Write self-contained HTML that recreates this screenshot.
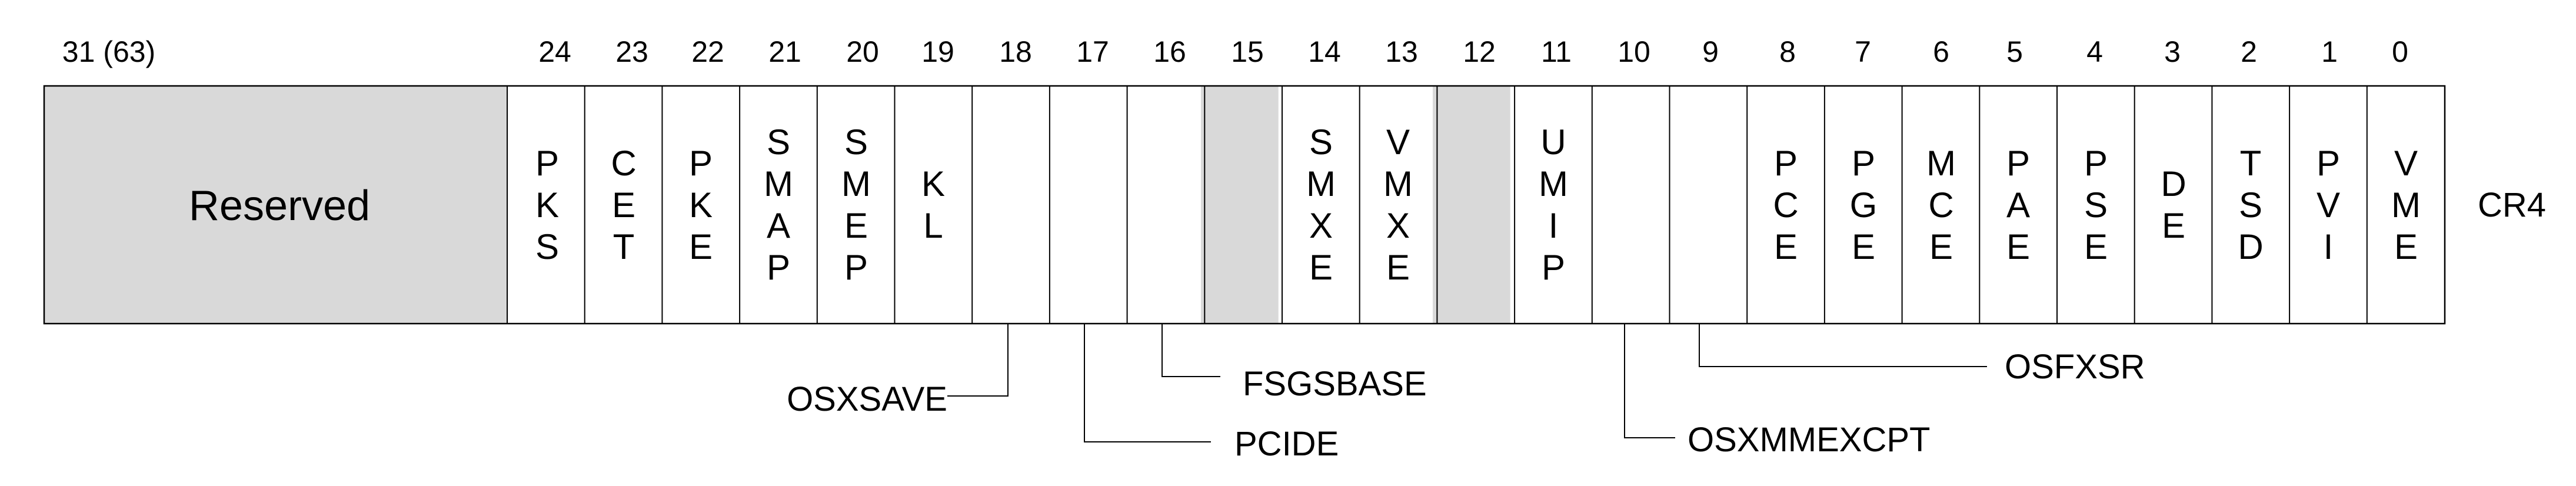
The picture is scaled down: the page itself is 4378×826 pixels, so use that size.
<!DOCTYPE html>
<html><head><meta charset="utf-8"><style>
html,body{margin:0;padding:0;background:#fff;}
svg{display:block;}
text{font-family:"Liberation Sans",Arial,sans-serif;fill:#000;}
</style></head><body>
<svg width="4378" height="826" viewBox="0 0 4378 826" xmlns="http://www.w3.org/2000/svg">
<rect x="75" y="146" width="787" height="404" fill="#d9d9d9"/>
<rect x="2041" y="146" width="131.7" height="404" fill="#d9d9d9"/>
<rect x="2435" y="146" width="131.7" height="404" fill="#d9d9d9"/>
<rect x="75" y="146" width="4080" height="404" fill="none" stroke="#000" stroke-width="2.5"/>
<g stroke="#000" stroke-width="2">
<line x1="862" y1="146" x2="862" y2="550"/>
<line x1="993.7" y1="146" x2="993.7" y2="550"/>
<line x1="1125.4" y1="146" x2="1125.4" y2="550"/>
<line x1="1257.1" y1="146" x2="1257.1" y2="550"/>
<line x1="1388.8" y1="146" x2="1388.8" y2="550"/>
<line x1="1520.5" y1="146" x2="1520.5" y2="550"/>
<line x1="1652.2" y1="146" x2="1652.2" y2="550"/>
<line x1="1783.9" y1="146" x2="1783.9" y2="550"/>
<line x1="1915.6" y1="146" x2="1915.6" y2="550"/>
<line x1="2047.3" y1="146" x2="2047.3" y2="550"/>
<line x1="2179" y1="146" x2="2179" y2="550"/>
<line x1="2310.7" y1="146" x2="2310.7" y2="550"/>
<line x1="2442.4" y1="146" x2="2442.4" y2="550"/>
<line x1="2574.1" y1="146" x2="2574.1" y2="550"/>
<line x1="2705.8" y1="146" x2="2705.8" y2="550"/>
<line x1="2837.5" y1="146" x2="2837.5" y2="550"/>
<line x1="2969.2" y1="146" x2="2969.2" y2="550"/>
<line x1="3100.9" y1="146" x2="3100.9" y2="550"/>
<line x1="3232.6" y1="146" x2="3232.6" y2="550"/>
<line x1="3364.3" y1="146" x2="3364.3" y2="550"/>
<line x1="3496" y1="146" x2="3496" y2="550"/>
<line x1="3627.7" y1="146" x2="3627.7" y2="550"/>
<line x1="3759.4" y1="146" x2="3759.4" y2="550"/>
<line x1="3891.1" y1="146" x2="3891.1" y2="550"/>
<line x1="4022.8" y1="146" x2="4022.8" y2="550"/>
</g>
<g font-size="50" text-anchor="middle">
<text x="185" y="105">31 (63)</text>
<text x="943" y="105">24</text>
<text x="1074" y="105">23</text>
<text x="1203" y="105">22</text>
<text x="1334" y="105">21</text>
<text x="1466" y="105">20</text>
<text x="1594" y="105">19</text>
<text x="1726" y="105">18</text>
<text x="1857" y="105">17</text>
<text x="1988" y="105">16</text>
<text x="2120" y="105">15</text>
<text x="2251" y="105">14</text>
<text x="2382" y="105">13</text>
<text x="2514" y="105">12</text>
<text x="2645" y="105">11</text>
<text x="2777" y="105">10</text>
<text x="2907" y="105">9</text>
<text x="3038" y="105">8</text>
<text x="3166" y="105">7</text>
<text x="3299" y="105">6</text>
<text x="3424" y="105">5</text>
<text x="3560" y="105">4</text>
<text x="3692" y="105">3</text>
<text x="3822" y="105">2</text>
<text x="3959" y="105">1</text>
<text x="4079" y="105">0</text>
</g>
<text x="475" y="374" font-size="72" text-anchor="middle">Reserved</text>
<text x="4211" y="368" font-size="58">CR4</text>
<g font-size="60" text-anchor="middle">
<text x="930" y="298">P</text><text x="930" y="369">K</text><text x="930" y="440">S</text>
<text x="1060" y="298">C</text><text x="1060" y="369">E</text><text x="1060" y="440">T</text>
<text x="1191" y="298">P</text><text x="1191" y="369">K</text><text x="1191" y="440">E</text>
<text x="1323" y="262">S</text><text x="1323" y="333">M</text><text x="1323" y="404">A</text><text x="1323" y="475">P</text>
<text x="1455" y="262">S</text><text x="1455" y="333">M</text><text x="1455" y="404">E</text><text x="1455" y="475">P</text>
<text x="1586" y="333">K</text><text x="1586" y="404">L</text>
<text x="2245" y="262">S</text><text x="2245" y="333">M</text><text x="2245" y="404">X</text><text x="2245" y="475">E</text>
<text x="2376" y="262">V</text><text x="2376" y="333">M</text><text x="2376" y="404">X</text><text x="2376" y="475">E</text>
<text x="2640" y="262">U</text><text x="2640" y="333">M</text><text x="2640" y="404">I</text><text x="2640" y="475">P</text>
<text x="3035" y="298">P</text><text x="3035" y="369">C</text><text x="3035" y="440">E</text>
<text x="3167" y="298">P</text><text x="3167" y="369">G</text><text x="3167" y="440">E</text>
<text x="3299" y="298">M</text><text x="3299" y="369">C</text><text x="3299" y="440">E</text>
<text x="3430" y="298">P</text><text x="3430" y="369">A</text><text x="3430" y="440">E</text>
<text x="3562" y="298">P</text><text x="3562" y="369">S</text><text x="3562" y="440">E</text>
<text x="3694" y="333">D</text><text x="3694" y="404">E</text>
<text x="3825" y="298">T</text><text x="3825" y="369">S</text><text x="3825" y="440">D</text>
<text x="3957" y="298">P</text><text x="3957" y="369">V</text><text x="3957" y="440">I</text>
<text x="4089" y="298">V</text><text x="4089" y="369">M</text><text x="4089" y="440">E</text>
</g>
<g fill="none" stroke="#000" stroke-width="2">
<polyline points="1713,550 1713,673 1610,673"/>
<polyline points="1843,550 1843,751 2058,751"/>
<polyline points="1975,550 1975,640 2074,640"/>
<polyline points="2761,550 2761,744 2847,744"/>
<polyline points="2888,550 2888,623 3377,623"/>
</g>
<g font-size="58">
<text x="1610" y="698" text-anchor="end">OSXSAVE</text>
<text x="2098" y="774">PCIDE</text>
<text x="2112" y="672">FSGSBASE</text>
<text x="2868" y="767">OSXMMEXCPT</text>
<text x="3407" y="643">OSFXSR</text>
</g>
</svg>
</body></html>
